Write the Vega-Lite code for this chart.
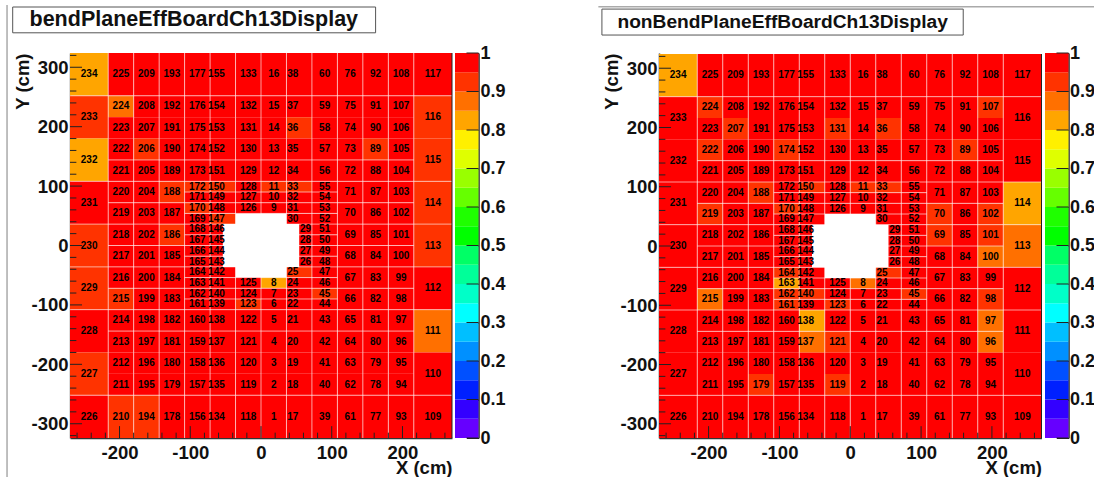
{"$schema":"https://vega.github.io/schema/vega-lite/v6.json","background":"white","padding":{"left":6,"top":4,"right":0,"bottom":0},"spacing":3,"bounds":"flush",
"config":{"view":{"stroke":null},"text":{"font":"Liberation Sans"},"axis":{"labelFont":"Liberation Sans","labelFontWeight":"bold","labelFontSize":18.5,"labelColor":"#111","titleFont":"Liberation Sans","titleFontWeight":"bold","titleFontSize":18.5,"titleColor":"#111","grid":false,"tickColor":"#222","tickWidth":1,"zindex":1}},
"datasets":{
"cells":[
{"id":234,"x":-270,"x2":-216,"y":252,"y2":324,"lx":-243,"ly":288,"b":0.83,"n":0.83},
{"id":233,"x":-270,"x2":-216,"y":180,"y2":252,"lx":-243,"ly":216,"b":0.93,"n":0.98},
{"id":232,"x":-270,"x2":-216,"y":108,"y2":180,"lx":-243,"ly":144,"b":0.83,"n":0.98},
{"id":231,"x":-270,"x2":-216,"y":36,"y2":108,"lx":-243,"ly":72,"b":0.98,"n":0.98},
{"id":230,"x":-270,"x2":-216,"y":-36,"y2":36,"lx":-243,"ly":0,"b":0.93,"n":0.98},
{"id":229,"x":-270,"x2":-216,"y":-108,"y2":-36,"lx":-243,"ly":-72,"b":0.93,"n":0.98},
{"id":228,"x":-270,"x2":-216,"y":-180,"y2":-108,"lx":-243,"ly":-144,"b":0.98,"n":0.98},
{"id":227,"x":-270,"x2":-216,"y":-252,"y2":-180,"lx":-243,"ly":-216,"b":0.93,"n":0.98},
{"id":226,"x":-270,"x2":-216,"y":-324,"y2":-252,"lx":-243,"ly":-288,"b":0.98,"n":0.98},
{"id":117,"x":216,"x2":270,"y":252,"y2":324,"lx":243,"ly":288,"b":0.98,"n":0.98},
{"id":116,"x":216,"x2":270,"y":180,"y2":252,"lx":243,"ly":216,"b":0.93,"n":0.98},
{"id":115,"x":216,"x2":270,"y":108,"y2":180,"lx":243,"ly":144,"b":0.93,"n":0.98},
{"id":114,"x":216,"x2":270,"y":36,"y2":108,"lx":243,"ly":72,"b":0.93,"n":0.83},
{"id":113,"x":216,"x2":270,"y":-36,"y2":36,"lx":243,"ly":0,"b":0.93,"n":0.88},
{"id":112,"x":216,"x2":270,"y":-108,"y2":-36,"lx":243,"ly":-72,"b":0.98,"n":0.98},
{"id":111,"x":216,"x2":270,"y":-180,"y2":-108,"lx":243,"ly":-144,"b":0.88,"n":0.98},
{"id":110,"x":216,"x2":270,"y":-252,"y2":-180,"lx":243,"ly":-216,"b":0.98,"n":0.98},
{"id":109,"x":216,"x2":270,"y":-324,"y2":-252,"lx":243,"ly":-288,"b":0.98,"n":0.98},
{"id":225,"x":-216,"x2":-180,"y":252,"y2":324,"lx":-198,"ly":288,"b":0.98,"n":0.98},
{"id":224,"x":-216,"x2":-180,"y":216,"y2":252,"lx":-198,"ly":234,"b":0.88,"n":0.93},
{"id":223,"x":-216,"x2":-180,"y":180,"y2":216,"lx":-198,"ly":198,"b":0.98,"n":0.98},
{"id":222,"x":-216,"x2":-180,"y":144,"y2":180,"lx":-198,"ly":162,"b":0.98,"n":0.93},
{"id":221,"x":-216,"x2":-180,"y":108,"y2":144,"lx":-198,"ly":126,"b":0.98,"n":0.98},
{"id":220,"x":-216,"x2":-180,"y":72,"y2":108,"lx":-198,"ly":90,"b":0.98,"n":0.98},
{"id":219,"x":-216,"x2":-180,"y":36,"y2":72,"lx":-198,"ly":54,"b":0.98,"n":0.93},
{"id":218,"x":-216,"x2":-180,"y":0,"y2":36,"lx":-198,"ly":18,"b":0.98,"n":0.98},
{"id":217,"x":-216,"x2":-180,"y":-36,"y2":0,"lx":-198,"ly":-18,"b":0.98,"n":0.98},
{"id":216,"x":-216,"x2":-180,"y":-72,"y2":-36,"lx":-198,"ly":-54,"b":0.98,"n":0.98},
{"id":215,"x":-216,"x2":-180,"y":-108,"y2":-72,"lx":-198,"ly":-90,"b":0.93,"n":0.88},
{"id":214,"x":-216,"x2":-180,"y":-144,"y2":-108,"lx":-198,"ly":-126,"b":0.98,"n":0.98},
{"id":213,"x":-216,"x2":-180,"y":-180,"y2":-144,"lx":-198,"ly":-162,"b":0.98,"n":0.98},
{"id":212,"x":-216,"x2":-180,"y":-216,"y2":-180,"lx":-198,"ly":-198,"b":0.98,"n":0.98},
{"id":211,"x":-216,"x2":-180,"y":-252,"y2":-216,"lx":-198,"ly":-234,"b":0.98,"n":0.98},
{"id":210,"x":-216,"x2":-180,"y":-324,"y2":-252,"lx":-198,"ly":-288,"b":0.93,"n":0.98},
{"id":209,"x":-180,"x2":-144,"y":252,"y2":324,"lx":-162,"ly":288,"b":0.98,"n":0.98},
{"id":208,"x":-180,"x2":-144,"y":216,"y2":252,"lx":-162,"ly":234,"b":0.98,"n":0.98},
{"id":207,"x":-180,"x2":-144,"y":180,"y2":216,"lx":-162,"ly":198,"b":0.98,"n":0.93},
{"id":206,"x":-180,"x2":-144,"y":144,"y2":180,"lx":-162,"ly":162,"b":0.93,"n":0.98},
{"id":205,"x":-180,"x2":-144,"y":108,"y2":144,"lx":-162,"ly":126,"b":0.98,"n":0.98},
{"id":204,"x":-180,"x2":-144,"y":72,"y2":108,"lx":-162,"ly":90,"b":0.98,"n":0.98},
{"id":203,"x":-180,"x2":-144,"y":36,"y2":72,"lx":-162,"ly":54,"b":0.98,"n":0.98},
{"id":202,"x":-180,"x2":-144,"y":0,"y2":36,"lx":-162,"ly":18,"b":0.98,"n":0.98},
{"id":201,"x":-180,"x2":-144,"y":-36,"y2":0,"lx":-162,"ly":-18,"b":0.98,"n":0.98},
{"id":200,"x":-180,"x2":-144,"y":-72,"y2":-36,"lx":-162,"ly":-54,"b":0.98,"n":0.98},
{"id":199,"x":-180,"x2":-144,"y":-108,"y2":-72,"lx":-162,"ly":-90,"b":0.98,"n":0.98},
{"id":198,"x":-180,"x2":-144,"y":-144,"y2":-108,"lx":-162,"ly":-126,"b":0.98,"n":0.98},
{"id":197,"x":-180,"x2":-144,"y":-180,"y2":-144,"lx":-162,"ly":-162,"b":0.98,"n":0.98},
{"id":196,"x":-180,"x2":-144,"y":-216,"y2":-180,"lx":-162,"ly":-198,"b":0.98,"n":0.98},
{"id":195,"x":-180,"x2":-144,"y":-252,"y2":-216,"lx":-162,"ly":-234,"b":0.98,"n":0.98},
{"id":194,"x":-180,"x2":-144,"y":-324,"y2":-252,"lx":-162,"ly":-288,"b":0.93,"n":0.98},
{"id":193,"x":-144,"x2":-108,"y":252,"y2":324,"lx":-126,"ly":288,"b":0.98,"n":0.98},
{"id":192,"x":-144,"x2":-108,"y":216,"y2":252,"lx":-126,"ly":234,"b":0.98,"n":0.98},
{"id":191,"x":-144,"x2":-108,"y":180,"y2":216,"lx":-126,"ly":198,"b":0.98,"n":0.98},
{"id":190,"x":-144,"x2":-108,"y":144,"y2":180,"lx":-126,"ly":162,"b":0.98,"n":0.98},
{"id":189,"x":-144,"x2":-108,"y":108,"y2":144,"lx":-126,"ly":126,"b":0.98,"n":0.98},
{"id":188,"x":-144,"x2":-108,"y":72,"y2":108,"lx":-126,"ly":90,"b":0.93,"n":0.93},
{"id":187,"x":-144,"x2":-108,"y":36,"y2":72,"lx":-126,"ly":54,"b":0.98,"n":0.98},
{"id":186,"x":-144,"x2":-108,"y":0,"y2":36,"lx":-126,"ly":18,"b":0.93,"n":0.98},
{"id":185,"x":-144,"x2":-108,"y":-36,"y2":0,"lx":-126,"ly":-18,"b":0.98,"n":0.98},
{"id":184,"x":-144,"x2":-108,"y":-72,"y2":-36,"lx":-126,"ly":-54,"b":0.98,"n":0.98},
{"id":183,"x":-144,"x2":-108,"y":-108,"y2":-72,"lx":-126,"ly":-90,"b":0.98,"n":0.98},
{"id":182,"x":-144,"x2":-108,"y":-144,"y2":-108,"lx":-126,"ly":-126,"b":0.98,"n":0.98},
{"id":181,"x":-144,"x2":-108,"y":-180,"y2":-144,"lx":-126,"ly":-162,"b":0.98,"n":0.98},
{"id":180,"x":-144,"x2":-108,"y":-216,"y2":-180,"lx":-126,"ly":-198,"b":0.98,"n":0.98},
{"id":179,"x":-144,"x2":-108,"y":-252,"y2":-216,"lx":-126,"ly":-234,"b":0.98,"n":0.93},
{"id":178,"x":-144,"x2":-108,"y":-324,"y2":-252,"lx":-126,"ly":-288,"b":0.98,"n":0.98},
{"id":177,"x":-108,"x2":-72,"y":252,"y2":324,"lx":-90,"ly":288,"b":0.98,"n":0.98},
{"id":176,"x":-108,"x2":-72,"y":216,"y2":252,"lx":-90,"ly":234,"b":0.98,"n":0.98},
{"id":175,"x":-108,"x2":-72,"y":180,"y2":216,"lx":-90,"ly":198,"b":0.98,"n":0.98},
{"id":174,"x":-108,"x2":-72,"y":144,"y2":180,"lx":-90,"ly":162,"b":0.98,"n":0.93},
{"id":173,"x":-108,"x2":-72,"y":108,"y2":144,"lx":-90,"ly":126,"b":0.98,"n":0.98},
{"id":172,"x":-108,"x2":-72,"y":90,"y2":108,"lx":-90,"ly":99,"b":0.93,"n":0.98},
{"id":171,"x":-108,"x2":-72,"y":72,"y2":90,"lx":-90,"ly":81,"b":0.98,"n":0.98},
{"id":170,"x":-108,"x2":-72,"y":54,"y2":72,"lx":-90,"ly":63,"b":0.93,"n":0.93},
{"id":169,"x":-108,"x2":-72,"y":36,"y2":54,"lx":-90,"ly":45,"b":0.98,"n":0.98},
{"id":168,"x":-108,"x2":-72,"y":18,"y2":36,"lx":-90,"ly":27,"b":0.98,"n":0.98},
{"id":167,"x":-108,"x2":-72,"y":0,"y2":18,"lx":-90,"ly":9,"b":0.98,"n":0.98},
{"id":166,"x":-108,"x2":-72,"y":-18,"y2":0,"lx":-90,"ly":-9,"b":0.98,"n":0.98},
{"id":165,"x":-108,"x2":-72,"y":-36,"y2":-18,"lx":-90,"ly":-27,"b":0.98,"n":0.98},
{"id":164,"x":-108,"x2":-72,"y":-54,"y2":-36,"lx":-90,"ly":-45,"b":0.98,"n":0.93},
{"id":163,"x":-108,"x2":-72,"y":-72,"y2":-54,"lx":-90,"ly":-63,"b":0.98,"n":0.83},
{"id":162,"x":-108,"x2":-72,"y":-90,"y2":-72,"lx":-90,"ly":-81,"b":0.98,"n":0.93},
{"id":161,"x":-108,"x2":-72,"y":-108,"y2":-90,"lx":-90,"ly":-99,"b":0.98,"n":0.93},
{"id":160,"x":-108,"x2":-72,"y":-144,"y2":-108,"lx":-90,"ly":-126,"b":0.98,"n":0.98},
{"id":159,"x":-108,"x2":-72,"y":-180,"y2":-144,"lx":-90,"ly":-162,"b":0.98,"n":0.98},
{"id":158,"x":-108,"x2":-72,"y":-216,"y2":-180,"lx":-90,"ly":-198,"b":0.98,"n":0.98},
{"id":157,"x":-108,"x2":-72,"y":-252,"y2":-216,"lx":-90,"ly":-234,"b":0.98,"n":0.98},
{"id":156,"x":-108,"x2":-72,"y":-324,"y2":-252,"lx":-90,"ly":-288,"b":0.98,"n":0.98},
{"id":155,"x":-72,"x2":-36,"y":252,"y2":324,"lx":-63,"ly":288,"b":0.98,"n":0.98},
{"id":154,"x":-72,"x2":-36,"y":216,"y2":252,"lx":-63,"ly":234,"b":0.98,"n":0.98},
{"id":153,"x":-72,"x2":-36,"y":180,"y2":216,"lx":-63,"ly":198,"b":0.98,"n":0.98},
{"id":152,"x":-72,"x2":-36,"y":144,"y2":180,"lx":-63,"ly":162,"b":0.98,"n":0.98},
{"id":151,"x":-72,"x2":-36,"y":108,"y2":144,"lx":-63,"ly":126,"b":0.98,"n":0.98},
{"id":150,"x":-72,"x2":-36,"y":90,"y2":108,"lx":-63,"ly":99,"b":0.93,"n":0.93},
{"id":149,"x":-72,"x2":-36,"y":72,"y2":90,"lx":-63,"ly":81,"b":0.98,"n":0.98},
{"id":148,"x":-72,"x2":-36,"y":54,"y2":72,"lx":-63,"ly":63,"b":0.98,"n":0.98},
{"id":147,"x":-72,"x2":-36,"y":36,"y2":54,"lx":-63,"ly":45,"b":0.93,"n":0.98},
{"id":146,"x":-72,"x2":-54,"y":18,"y2":36,"lx":-63,"ly":27,"b":0.98,"n":0.98},
{"id":145,"x":-72,"x2":-54,"y":0,"y2":18,"lx":-63,"ly":9,"b":0.98,"n":0.98},
{"id":144,"x":-72,"x2":-54,"y":-18,"y2":0,"lx":-63,"ly":-9,"b":0.98,"n":0.98},
{"id":143,"x":-72,"x2":-54,"y":-36,"y2":-18,"lx":-63,"ly":-27,"b":0.98,"n":0.98},
{"id":142,"x":-72,"x2":-36,"y":-54,"y2":-36,"lx":-63,"ly":-45,"b":0.98,"n":0.98},
{"id":141,"x":-72,"x2":-36,"y":-72,"y2":-54,"lx":-63,"ly":-63,"b":0.98,"n":0.98},
{"id":140,"x":-72,"x2":-36,"y":-90,"y2":-72,"lx":-63,"ly":-81,"b":0.98,"n":0.93},
{"id":139,"x":-72,"x2":-36,"y":-108,"y2":-90,"lx":-63,"ly":-99,"b":0.98,"n":0.98},
{"id":138,"x":-72,"x2":-36,"y":-144,"y2":-108,"lx":-63,"ly":-126,"b":0.98,"n":0.83},
{"id":137,"x":-72,"x2":-36,"y":-180,"y2":-144,"lx":-63,"ly":-162,"b":0.98,"n":0.88},
{"id":136,"x":-72,"x2":-36,"y":-216,"y2":-180,"lx":-63,"ly":-198,"b":0.98,"n":0.98},
{"id":135,"x":-72,"x2":-36,"y":-252,"y2":-216,"lx":-63,"ly":-234,"b":0.98,"n":0.98},
{"id":134,"x":-72,"x2":-36,"y":-324,"y2":-252,"lx":-63,"ly":-288,"b":0.98,"n":0.98},
{"id":133,"x":-36,"x2":0,"y":252,"y2":324,"lx":-18,"ly":288,"b":0.98,"n":0.98},
{"id":132,"x":-36,"x2":0,"y":216,"y2":252,"lx":-18,"ly":234,"b":0.98,"n":0.98},
{"id":131,"x":-36,"x2":0,"y":180,"y2":216,"lx":-18,"ly":198,"b":0.98,"n":0.93},
{"id":130,"x":-36,"x2":0,"y":144,"y2":180,"lx":-18,"ly":162,"b":0.98,"n":0.98},
{"id":129,"x":-36,"x2":0,"y":108,"y2":144,"lx":-18,"ly":126,"b":0.98,"n":0.98},
{"id":128,"x":-36,"x2":0,"y":90,"y2":108,"lx":-18,"ly":99,"b":0.98,"n":0.98},
{"id":127,"x":-36,"x2":0,"y":72,"y2":90,"lx":-18,"ly":81,"b":0.98,"n":0.98},
{"id":126,"x":-36,"x2":0,"y":54,"y2":72,"lx":-18,"ly":63,"b":0.98,"n":0.98},
{"id":125,"x":-36,"x2":0,"y":-72,"y2":-54,"lx":-18,"ly":-63,"b":0.98,"n":0.98},
{"id":124,"x":-36,"x2":0,"y":-90,"y2":-72,"lx":-18,"ly":-81,"b":0.98,"n":0.98},
{"id":123,"x":-36,"x2":0,"y":-108,"y2":-90,"lx":-18,"ly":-99,"b":0.93,"n":0.93},
{"id":122,"x":-36,"x2":0,"y":-144,"y2":-108,"lx":-18,"ly":-126,"b":0.98,"n":0.98},
{"id":121,"x":-36,"x2":0,"y":-180,"y2":-144,"lx":-18,"ly":-162,"b":0.98,"n":0.93},
{"id":120,"x":-36,"x2":0,"y":-216,"y2":-180,"lx":-18,"ly":-198,"b":0.98,"n":0.98},
{"id":119,"x":-36,"x2":0,"y":-252,"y2":-216,"lx":-18,"ly":-234,"b":0.98,"n":0.93},
{"id":118,"x":-36,"x2":0,"y":-324,"y2":-252,"lx":-18,"ly":-288,"b":0.98,"n":0.98},
{"id":16,"x":0,"x2":36,"y":252,"y2":324,"lx":18,"ly":288,"b":0.98,"n":0.98},
{"id":15,"x":0,"x2":36,"y":216,"y2":252,"lx":18,"ly":234,"b":0.98,"n":0.98},
{"id":14,"x":0,"x2":36,"y":180,"y2":216,"lx":18,"ly":198,"b":0.98,"n":0.98},
{"id":13,"x":0,"x2":36,"y":144,"y2":180,"lx":18,"ly":162,"b":0.98,"n":0.98},
{"id":12,"x":0,"x2":36,"y":108,"y2":144,"lx":18,"ly":126,"b":0.98,"n":0.98},
{"id":11,"x":0,"x2":36,"y":90,"y2":108,"lx":18,"ly":99,"b":0.93,"n":0.93},
{"id":10,"x":0,"x2":36,"y":72,"y2":90,"lx":18,"ly":81,"b":0.98,"n":0.98},
{"id":9,"x":0,"x2":36,"y":54,"y2":72,"lx":18,"ly":63,"b":0.98,"n":0.98},
{"id":8,"x":0,"x2":36,"y":-72,"y2":-54,"lx":18,"ly":-63,"b":0.83,"n":0.88},
{"id":7,"x":0,"x2":36,"y":-90,"y2":-72,"lx":18,"ly":-81,"b":0.98,"n":0.98},
{"id":6,"x":0,"x2":36,"y":-108,"y2":-90,"lx":18,"ly":-99,"b":0.98,"n":0.98},
{"id":5,"x":0,"x2":36,"y":-144,"y2":-108,"lx":18,"ly":-126,"b":0.98,"n":0.98},
{"id":4,"x":0,"x2":36,"y":-180,"y2":-144,"lx":18,"ly":-162,"b":0.98,"n":0.98},
{"id":3,"x":0,"x2":36,"y":-216,"y2":-180,"lx":18,"ly":-198,"b":0.98,"n":0.98},
{"id":2,"x":0,"x2":36,"y":-252,"y2":-216,"lx":18,"ly":-234,"b":0.98,"n":0.98},
{"id":1,"x":0,"x2":36,"y":-324,"y2":-252,"lx":18,"ly":-288,"b":0.98,"n":0.98},
{"id":38,"x":36,"x2":72,"y":252,"y2":324,"lx":45,"ly":288,"b":0.98,"n":0.98},
{"id":37,"x":36,"x2":72,"y":216,"y2":252,"lx":45,"ly":234,"b":0.98,"n":0.98},
{"id":36,"x":36,"x2":72,"y":180,"y2":216,"lx":45,"ly":198,"b":0.93,"n":0.93},
{"id":35,"x":36,"x2":72,"y":144,"y2":180,"lx":45,"ly":162,"b":0.98,"n":0.98},
{"id":34,"x":36,"x2":72,"y":108,"y2":144,"lx":45,"ly":126,"b":0.98,"n":0.98},
{"id":33,"x":36,"x2":72,"y":90,"y2":108,"lx":45,"ly":99,"b":0.93,"n":0.93},
{"id":32,"x":36,"x2":72,"y":72,"y2":90,"lx":45,"ly":81,"b":0.98,"n":0.98},
{"id":31,"x":36,"x2":72,"y":54,"y2":72,"lx":45,"ly":63,"b":0.98,"n":0.98},
{"id":30,"x":36,"x2":72,"y":36,"y2":54,"lx":45,"ly":45,"b":0.98,"n":0.98},
{"id":29,"x":54,"x2":72,"y":18,"y2":36,"lx":63,"ly":27,"b":0.98,"n":0.98},
{"id":28,"x":54,"x2":72,"y":0,"y2":18,"lx":63,"ly":9,"b":0.98,"n":0.98},
{"id":27,"x":54,"x2":72,"y":-18,"y2":0,"lx":63,"ly":-9,"b":0.98,"n":0.98},
{"id":26,"x":54,"x2":72,"y":-36,"y2":-18,"lx":63,"ly":-27,"b":0.98,"n":0.98},
{"id":25,"x":36,"x2":72,"y":-54,"y2":-36,"lx":45,"ly":-45,"b":0.93,"n":0.93},
{"id":24,"x":36,"x2":72,"y":-72,"y2":-54,"lx":45,"ly":-63,"b":0.98,"n":0.98},
{"id":23,"x":36,"x2":72,"y":-90,"y2":-72,"lx":45,"ly":-81,"b":0.98,"n":0.98},
{"id":22,"x":36,"x2":72,"y":-108,"y2":-90,"lx":45,"ly":-99,"b":0.98,"n":0.98},
{"id":21,"x":36,"x2":72,"y":-144,"y2":-108,"lx":45,"ly":-126,"b":0.98,"n":0.98},
{"id":20,"x":36,"x2":72,"y":-180,"y2":-144,"lx":45,"ly":-162,"b":0.98,"n":0.98},
{"id":19,"x":36,"x2":72,"y":-216,"y2":-180,"lx":45,"ly":-198,"b":0.98,"n":0.98},
{"id":18,"x":36,"x2":72,"y":-252,"y2":-216,"lx":45,"ly":-234,"b":0.98,"n":0.98},
{"id":17,"x":36,"x2":72,"y":-324,"y2":-252,"lx":45,"ly":-288,"b":0.98,"n":0.98},
{"id":60,"x":72,"x2":108,"y":252,"y2":324,"lx":90,"ly":288,"b":0.98,"n":0.98},
{"id":59,"x":72,"x2":108,"y":216,"y2":252,"lx":90,"ly":234,"b":0.98,"n":0.98},
{"id":58,"x":72,"x2":108,"y":180,"y2":216,"lx":90,"ly":198,"b":0.98,"n":0.98},
{"id":57,"x":72,"x2":108,"y":144,"y2":180,"lx":90,"ly":162,"b":0.98,"n":0.98},
{"id":56,"x":72,"x2":108,"y":108,"y2":144,"lx":90,"ly":126,"b":0.98,"n":0.98},
{"id":55,"x":72,"x2":108,"y":90,"y2":108,"lx":90,"ly":99,"b":0.98,"n":0.98},
{"id":54,"x":72,"x2":108,"y":72,"y2":90,"lx":90,"ly":81,"b":0.98,"n":0.98},
{"id":53,"x":72,"x2":108,"y":54,"y2":72,"lx":90,"ly":63,"b":0.98,"n":0.98},
{"id":52,"x":72,"x2":108,"y":36,"y2":54,"lx":90,"ly":45,"b":0.98,"n":0.98},
{"id":51,"x":72,"x2":108,"y":18,"y2":36,"lx":90,"ly":27,"b":0.98,"n":0.98},
{"id":50,"x":72,"x2":108,"y":0,"y2":18,"lx":90,"ly":9,"b":0.98,"n":0.98},
{"id":49,"x":72,"x2":108,"y":-18,"y2":0,"lx":90,"ly":-9,"b":0.98,"n":0.98},
{"id":48,"x":72,"x2":108,"y":-36,"y2":-18,"lx":90,"ly":-27,"b":0.98,"n":0.98},
{"id":47,"x":72,"x2":108,"y":-54,"y2":-36,"lx":90,"ly":-45,"b":0.98,"n":0.98},
{"id":46,"x":72,"x2":108,"y":-72,"y2":-54,"lx":90,"ly":-63,"b":0.98,"n":0.98},
{"id":45,"x":72,"x2":108,"y":-90,"y2":-72,"lx":90,"ly":-81,"b":0.93,"n":0.93},
{"id":44,"x":72,"x2":108,"y":-108,"y2":-90,"lx":90,"ly":-99,"b":0.98,"n":0.98},
{"id":43,"x":72,"x2":108,"y":-144,"y2":-108,"lx":90,"ly":-126,"b":0.98,"n":0.98},
{"id":42,"x":72,"x2":108,"y":-180,"y2":-144,"lx":90,"ly":-162,"b":0.98,"n":0.98},
{"id":41,"x":72,"x2":108,"y":-216,"y2":-180,"lx":90,"ly":-198,"b":0.98,"n":0.98},
{"id":40,"x":72,"x2":108,"y":-252,"y2":-216,"lx":90,"ly":-234,"b":0.98,"n":0.98},
{"id":39,"x":72,"x2":108,"y":-324,"y2":-252,"lx":90,"ly":-288,"b":0.98,"n":0.98},
{"id":76,"x":108,"x2":144,"y":252,"y2":324,"lx":126,"ly":288,"b":0.98,"n":0.98},
{"id":75,"x":108,"x2":144,"y":216,"y2":252,"lx":126,"ly":234,"b":0.98,"n":0.98},
{"id":74,"x":108,"x2":144,"y":180,"y2":216,"lx":126,"ly":198,"b":0.98,"n":0.98},
{"id":73,"x":108,"x2":144,"y":144,"y2":180,"lx":126,"ly":162,"b":0.98,"n":0.98},
{"id":72,"x":108,"x2":144,"y":108,"y2":144,"lx":126,"ly":126,"b":0.98,"n":0.98},
{"id":71,"x":108,"x2":144,"y":72,"y2":108,"lx":126,"ly":90,"b":0.98,"n":0.98},
{"id":70,"x":108,"x2":144,"y":36,"y2":72,"lx":126,"ly":54,"b":0.98,"n":0.93},
{"id":69,"x":108,"x2":144,"y":0,"y2":36,"lx":126,"ly":18,"b":0.98,"n":0.93},
{"id":68,"x":108,"x2":144,"y":-36,"y2":0,"lx":126,"ly":-18,"b":0.98,"n":0.98},
{"id":67,"x":108,"x2":144,"y":-72,"y2":-36,"lx":126,"ly":-54,"b":0.98,"n":0.98},
{"id":66,"x":108,"x2":144,"y":-108,"y2":-72,"lx":126,"ly":-90,"b":0.98,"n":0.98},
{"id":65,"x":108,"x2":144,"y":-144,"y2":-108,"lx":126,"ly":-126,"b":0.98,"n":0.98},
{"id":64,"x":108,"x2":144,"y":-180,"y2":-144,"lx":126,"ly":-162,"b":0.98,"n":0.98},
{"id":63,"x":108,"x2":144,"y":-216,"y2":-180,"lx":126,"ly":-198,"b":0.98,"n":0.98},
{"id":62,"x":108,"x2":144,"y":-252,"y2":-216,"lx":126,"ly":-234,"b":0.98,"n":0.98},
{"id":61,"x":108,"x2":144,"y":-324,"y2":-252,"lx":126,"ly":-288,"b":0.98,"n":0.98},
{"id":92,"x":144,"x2":180,"y":252,"y2":324,"lx":162,"ly":288,"b":0.98,"n":0.98},
{"id":91,"x":144,"x2":180,"y":216,"y2":252,"lx":162,"ly":234,"b":0.98,"n":0.98},
{"id":90,"x":144,"x2":180,"y":180,"y2":216,"lx":162,"ly":198,"b":0.98,"n":0.98},
{"id":89,"x":144,"x2":180,"y":144,"y2":180,"lx":162,"ly":162,"b":0.93,"n":0.93},
{"id":88,"x":144,"x2":180,"y":108,"y2":144,"lx":162,"ly":126,"b":0.98,"n":0.98},
{"id":87,"x":144,"x2":180,"y":72,"y2":108,"lx":162,"ly":90,"b":0.98,"n":0.98},
{"id":86,"x":144,"x2":180,"y":36,"y2":72,"lx":162,"ly":54,"b":0.98,"n":0.98},
{"id":85,"x":144,"x2":180,"y":0,"y2":36,"lx":162,"ly":18,"b":0.98,"n":0.98},
{"id":84,"x":144,"x2":180,"y":-36,"y2":0,"lx":162,"ly":-18,"b":0.98,"n":0.98},
{"id":83,"x":144,"x2":180,"y":-72,"y2":-36,"lx":162,"ly":-54,"b":0.98,"n":0.98},
{"id":82,"x":144,"x2":180,"y":-108,"y2":-72,"lx":162,"ly":-90,"b":0.98,"n":0.98},
{"id":81,"x":144,"x2":180,"y":-144,"y2":-108,"lx":162,"ly":-126,"b":0.98,"n":0.98},
{"id":80,"x":144,"x2":180,"y":-180,"y2":-144,"lx":162,"ly":-162,"b":0.98,"n":0.98},
{"id":79,"x":144,"x2":180,"y":-216,"y2":-180,"lx":162,"ly":-198,"b":0.98,"n":0.98},
{"id":78,"x":144,"x2":180,"y":-252,"y2":-216,"lx":162,"ly":-234,"b":0.98,"n":0.98},
{"id":77,"x":144,"x2":180,"y":-324,"y2":-252,"lx":162,"ly":-288,"b":0.98,"n":0.98},
{"id":108,"x":180,"x2":216,"y":252,"y2":324,"lx":198,"ly":288,"b":0.98,"n":0.98},
{"id":107,"x":180,"x2":216,"y":216,"y2":252,"lx":198,"ly":234,"b":0.98,"n":0.93},
{"id":106,"x":180,"x2":216,"y":180,"y2":216,"lx":198,"ly":198,"b":0.98,"n":0.98},
{"id":105,"x":180,"x2":216,"y":144,"y2":180,"lx":198,"ly":162,"b":0.98,"n":0.98},
{"id":104,"x":180,"x2":216,"y":108,"y2":144,"lx":198,"ly":126,"b":0.98,"n":0.98},
{"id":103,"x":180,"x2":216,"y":72,"y2":108,"lx":198,"ly":90,"b":0.98,"n":0.98},
{"id":102,"x":180,"x2":216,"y":36,"y2":72,"lx":198,"ly":54,"b":0.98,"n":0.93},
{"id":101,"x":180,"x2":216,"y":0,"y2":36,"lx":198,"ly":18,"b":0.98,"n":0.93},
{"id":100,"x":180,"x2":216,"y":-36,"y2":0,"lx":198,"ly":-18,"b":0.98,"n":0.88},
{"id":99,"x":180,"x2":216,"y":-72,"y2":-36,"lx":198,"ly":-54,"b":0.98,"n":0.98},
{"id":98,"x":180,"x2":216,"y":-108,"y2":-72,"lx":198,"ly":-90,"b":0.98,"n":0.93},
{"id":97,"x":180,"x2":216,"y":-144,"y2":-108,"lx":198,"ly":-126,"b":0.98,"n":0.88},
{"id":96,"x":180,"x2":216,"y":-180,"y2":-144,"lx":198,"ly":-162,"b":0.98,"n":0.88},
{"id":95,"x":180,"x2":216,"y":-216,"y2":-180,"lx":198,"ly":-198,"b":0.98,"n":0.98},
{"id":94,"x":180,"x2":216,"y":-252,"y2":-216,"lx":198,"ly":-234,"b":0.98,"n":0.98},
{"id":93,"x":180,"x2":216,"y":-324,"y2":-252,"lx":198,"ly":-288,"b":0.98,"n":0.98}
],
"grid":[
{"x":-270,"x2":270,"y":252,"y2":252},{"x":-216,"x2":216,"y":144,"y2":144},{"x":-270,"x2":270,"y":108,"y2":108},{"x":-216,"x2":216,"y":72,"y2":72},{"x":-270,"x2":270,"y":36,"y2":36},{"x":-216,"x2":216,"y":0,"y2":0},{"x":-270,"x2":270,"y":-36,"y2":-36},{"x":-216,"x2":216,"y":-72,"y2":-72},{"x":-270,"x2":270,"y":-108,"y2":-108},{"x":-216,"x2":216,"y":-144,"y2":-144},{"x":-270,"x2":270,"y":-252,"y2":-252},
{"x":-108,"x2":108,"y":90,"y2":90},{"x":-108,"x2":108,"y":54,"y2":54},{"x":-108,"x2":108,"y":18,"y2":18},{"x":-108,"x2":108,"y":-18,"y2":-18},{"x":-108,"x2":108,"y":-54,"y2":-54},{"x":-108,"x2":108,"y":-90,"y2":-90},
{"x":-216,"x2":-216,"y":-324,"y2":324},{"x":-180,"x2":-180,"y":-324,"y2":324},{"x":-144,"x2":-144,"y":-324,"y2":324},{"x":-108,"x2":-108,"y":-324,"y2":324},{"x":-72,"x2":-72,"y":-324,"y2":324},{"x":-36,"x2":-36,"y":-324,"y2":324},{"x":0,"x2":0,"y":-324,"y2":324},{"x":36,"x2":36,"y":-324,"y2":324},{"x":72,"x2":72,"y":-324,"y2":324},{"x":108,"x2":108,"y":-324,"y2":324},{"x":144,"x2":144,"y":-324,"y2":324},{"x":180,"x2":180,"y":-324,"y2":324},{"x":216,"x2":216,"y":-324,"y2":324}
],
"ticks":[
{"x":-200,"x2":-200,"y":-324,"y2":-304},{"x":-100,"x2":-100,"y":-324,"y2":-304},{"x":0,"x2":0,"y":-324,"y2":-304},{"x":100,"x2":100,"y":-324,"y2":-304},{"x":200,"x2":200,"y":-324,"y2":-304},
{"x":-270,"x2":-253,"y":300,"y2":300},{"x":-270,"x2":-253,"y":200,"y2":200},{"x":-270,"x2":-253,"y":100,"y2":100},{"x":-270,"x2":-253,"y":0,"y2":0},{"x":-270,"x2":-253,"y":-100,"y2":-100},{"x":-270,"x2":-253,"y":-200,"y2":-200},{"x":-270,"x2":-253,"y":-300,"y2":-300},
{"x":-260,"x2":-260,"y":-324,"y2":-315},{"x":-240,"x2":-240,"y":-324,"y2":-315},{"x":-220,"x2":-220,"y":-324,"y2":-315},{"x":-180,"x2":-180,"y":-324,"y2":-315},{"x":-160,"x2":-160,"y":-324,"y2":-315},{"x":-140,"x2":-140,"y":-324,"y2":-315},{"x":-120,"x2":-120,"y":-324,"y2":-315},{"x":-80,"x2":-80,"y":-324,"y2":-315},{"x":-60,"x2":-60,"y":-324,"y2":-315},{"x":-40,"x2":-40,"y":-324,"y2":-315},{"x":-20,"x2":-20,"y":-324,"y2":-315},{"x":20,"x2":20,"y":-324,"y2":-315},{"x":40,"x2":40,"y":-324,"y2":-315},{"x":60,"x2":60,"y":-324,"y2":-315},{"x":80,"x2":80,"y":-324,"y2":-315},{"x":120,"x2":120,"y":-324,"y2":-315},{"x":140,"x2":140,"y":-324,"y2":-315},{"x":160,"x2":160,"y":-324,"y2":-315},{"x":180,"x2":180,"y":-324,"y2":-315},{"x":220,"x2":220,"y":-324,"y2":-315},{"x":240,"x2":240,"y":-324,"y2":-315},{"x":260,"x2":260,"y":-324,"y2":-315},
{"x":-270,"x2":-261,"y":320,"y2":320},{"x":-270,"x2":-261,"y":280,"y2":280},{"x":-270,"x2":-261,"y":260,"y2":260},{"x":-270,"x2":-261,"y":240,"y2":240},{"x":-270,"x2":-261,"y":220,"y2":220},{"x":-270,"x2":-261,"y":180,"y2":180},{"x":-270,"x2":-261,"y":160,"y2":160},{"x":-270,"x2":-261,"y":140,"y2":140},{"x":-270,"x2":-261,"y":120,"y2":120},{"x":-270,"x2":-261,"y":80,"y2":80},{"x":-270,"x2":-261,"y":60,"y2":60},{"x":-270,"x2":-261,"y":40,"y2":40},{"x":-270,"x2":-261,"y":20,"y2":20},{"x":-270,"x2":-261,"y":-20,"y2":-20},{"x":-270,"x2":-261,"y":-40,"y2":-40},{"x":-270,"x2":-261,"y":-60,"y2":-60},{"x":-270,"x2":-261,"y":-80,"y2":-80},{"x":-270,"x2":-261,"y":-120,"y2":-120},{"x":-270,"x2":-261,"y":-140,"y2":-140},{"x":-270,"x2":-261,"y":-160,"y2":-160},{"x":-270,"x2":-261,"y":-180,"y2":-180},{"x":-270,"x2":-261,"y":-220,"y2":-220},{"x":-270,"x2":-261,"y":-240,"y2":-240},{"x":-270,"x2":-261,"y":-260,"y2":-260},{"x":-270,"x2":-261,"y":-280,"y2":-280},{"x":-270,"x2":-261,"y":-320,"y2":-320},
{"x":270,"x2":270,"y":-324,"y2":324}
],
"levels":[
{"x":0,"x2":1,"y":0,"y2":0.05,"v":0.025},{"x":0,"x2":1,"y":0.05,"y2":0.1,"v":0.075},{"x":0,"x2":1,"y":0.1,"y2":0.15,"v":0.125},{"x":0,"x2":1,"y":0.15,"y2":0.2,"v":0.175},{"x":0,"x2":1,"y":0.2,"y2":0.25,"v":0.225},{"x":0,"x2":1,"y":0.25,"y2":0.3,"v":0.275},{"x":0,"x2":1,"y":0.3,"y2":0.35,"v":0.325},{"x":0,"x2":1,"y":0.35,"y2":0.4,"v":0.375},{"x":0,"x2":1,"y":0.4,"y2":0.45,"v":0.425},{"x":0,"x2":1,"y":0.45,"y2":0.5,"v":0.475},{"x":0,"x2":1,"y":0.5,"y2":0.55,"v":0.525},{"x":0,"x2":1,"y":0.55,"y2":0.6,"v":0.575},{"x":0,"x2":1,"y":0.6,"y2":0.65,"v":0.625},{"x":0,"x2":1,"y":0.65,"y2":0.7,"v":0.675},{"x":0,"x2":1,"y":0.7,"y2":0.75,"v":0.725},{"x":0,"x2":1,"y":0.75,"y2":0.8,"v":0.775},{"x":0,"x2":1,"y":0.8,"y2":0.85,"v":0.825},{"x":0,"x2":1,"y":0.85,"y2":0.9,"v":0.875},{"x":0,"x2":1,"y":0.9,"y2":0.95,"v":0.925},{"x":0,"x2":1,"y":0.95,"y2":1,"v":0.975}
],
"barticks":[
{"x":0.49,"x2":1,"y":0,"y2":0},{"x":0.49,"x2":1,"y":0.1,"y2":0.1},{"x":0.49,"x2":1,"y":0.2,"y2":0.2},{"x":0.49,"x2":1,"y":0.3,"y2":0.3},{"x":0.49,"x2":1,"y":0.4,"y2":0.4},{"x":0.49,"x2":1,"y":0.5,"y2":0.5},{"x":0.49,"x2":1,"y":0.6,"y2":0.6},{"x":0.49,"x2":1,"y":0.7,"y2":0.7},{"x":0.49,"x2":1,"y":0.8,"y2":0.8},{"x":0.49,"x2":1,"y":0.9,"y2":0.9},{"x":0.49,"x2":1,"y":1,"y2":1}
]
},
"hconcat":[
{"width":382,"height":385,"encoding":{
"x":{"field":"x","type":"quantitative","scale":{"domain":[-270,270],"nice":false,"zero":false},"axis":{"title":"X (cm)","values":[-200,-100,0,100,200],"labelExpr":"''+datum.value","tickSize":-12,"labelPadding":17,"domainColor":"#333","domainWidth":1.5,"titleAnchor":"end","titleAlign":"right","titleBaseline":"alphabetic","titleX":382,"titleY":35}},
"y":{"field":"y","type":"quantitative","scale":{"domain":[-324,324],"nice":false,"zero":false},"axis":{"title":"Y (cm)","values":[-300,-200,-100,0,100,200,300],"labelExpr":"''+datum.value","tickSize":-12,"labelPadding":14,"domainColor":"#777","domainWidth":1.5,"titleAngle":-90,"titleAnchor":"end","titleAlign":"right","titleBaseline":"alphabetic","titleX":-42,"titleY":0}}},
"layer":[
{"data":{"name":"cells"},"mark":{"type":"rect"},"encoding":{"x2":{"field":"x2"},"y2":{"field":"y2"},"color":{"field":"b","type":"quantitative","legend":null,"scale":{"type":"threshold","domain":[0.05,0.1,0.15,0.2,0.25,0.3,0.35,0.4,0.45,0.5,0.55,0.6,0.65,0.7,0.75,0.8,0.85,0.9,0.95],"range":["#6600ff","#3300ff","#0020ff","#0050ff","#0090ff","#00bfff","#00ffff","#00ffc8","#00ff99","#00ff66","#00ff00","#1fff00","#66ff00","#99ff00","#dfff00","#fff000","#ffa500","#ff7000","#ff3300","#ff0000"]}}}},
{"data":{"name":"grid"},"mark":{"type":"rule","color":"#ffffff","opacity":0.6,"strokeWidth":1},"encoding":{"x2":{"field":"x2"},"y2":{"field":"y2"}}},
{"data":{"name":"cells"},"mark":{"type":"text","font":"Liberation Sans","fontWeight":"bold","fontSize":10,"color":"#000"},"encoding":{"x":{"field":"lx","type":"quantitative","scale":{"domain":[-270,270],"nice":false,"zero":false},"axis":{"title":"X (cm)","values":[-200,-100,0,100,200],"labelExpr":"''+datum.value","tickSize":-12,"labelPadding":17,"domainColor":"#333","domainWidth":1.5,"titleAnchor":"end","titleAlign":"right","titleBaseline":"alphabetic","titleX":382,"titleY":35}},"y":{"field":"ly","type":"quantitative","scale":{"domain":[-324,324],"nice":false,"zero":false},"axis":{"title":"Y (cm)","values":[-300,-200,-100,0,100,200,300],"labelExpr":"''+datum.value","tickSize":-12,"labelPadding":14,"domainColor":"#777","domainWidth":1.5,"titleAngle":-90,"titleAnchor":"end","titleAlign":"right","titleBaseline":"alphabetic","titleX":-42,"titleY":0}},"text":{"field":"id","type":"nominal"}}},
{"data":{"name":"ticks"},"mark":{"type":"rule","color":"#222","strokeWidth":1},"encoding":{"x2":{"field":"x2"},"y2":{"field":"y2"}}},
{"data":{"values":[{"x":-359,"x2":-359,"y":-390,"y2":405}]},"mark":{"type":"rule","color":"#aaaaaa","strokeWidth":1.5},"encoding":{"x2":{"field":"x2"},"y2":{"field":"y2"}}},
{"data":{"values":[{"x":-351,"x2":162,"y":358,"y2":401.4}]},"mark":{"type":"rect","fill":"white","stroke":"#555","strokeWidth":1},"encoding":{"x2":{"field":"x2"},"y2":{"field":"y2"}}},
{"data":{"values":[{"x":-95,"y":379,"t":"bendPlaneEffBoardCh13Display"}]},"mark":{"type":"text","font":"Liberation Sans","fontWeight":"bold","fontSize":21.5,"color":"#111"},"encoding":{"text":{"field":"t","type":"nominal"}}}
]},
{"width":23.5,"height":385,"encoding":{
"x":{"field":"x","type":"quantitative","scale":{"domain":[0,1],"nice":false,"zero":false},"axis":null},
"y":{"field":"y","type":"quantitative","scale":{"domain":[0,1],"nice":false,"zero":false},"axis":{"orient":"right","title":null,"values":[0,0.1,0.2,0.3,0.4,0.5,0.6,0.7,0.8,0.9,1],"format":"~g","tickSize":-12,"labelFontSize":18,"labelPadding":13.5,"labelAlign":"left","domainColor":"#222","domainWidth":1.5}}},
"layer":[
{"data":{"name":"levels"},"mark":{"type":"rect"},"encoding":{"x2":{"field":"x2"},"y2":{"field":"y2"},"color":{"field":"v","type":"quantitative","legend":null,"scale":{"type":"threshold","domain":[0.05,0.1,0.15,0.2,0.25,0.3,0.35,0.4,0.45,0.5,0.55,0.6,0.65,0.7,0.75,0.8,0.85,0.9,0.95],"range":["#6600ff","#3300ff","#0020ff","#0050ff","#0090ff","#00bfff","#00ffff","#00ffc8","#00ff99","#00ff66","#00ff00","#1fff00","#66ff00","#99ff00","#dfff00","#fff000","#ffa500","#ff7000","#ff3300","#ff0000"]}}}},
{"data":{"name":"barticks"},"mark":{"type":"rule","color":"#222","strokeWidth":1},"encoding":{"x2":{"field":"x2"},"y2":{"field":"y2"}}}
]},
{"width":173.2,"height":385,"data":{"values":[{"s":1}]},"mark":{"type":"point","opacity":0},"encoding":{}},
{"width":382.5,"height":385,"encoding":{
"x":{"field":"x","type":"quantitative","scale":{"domain":[-270,270],"nice":false,"zero":false},"axis":{"title":"X (cm)","values":[-200,-100,0,100,200],"labelExpr":"''+datum.value","tickSize":-12,"labelPadding":17,"domainColor":"#333","domainWidth":1.5,"titleAnchor":"end","titleAlign":"right","titleBaseline":"alphabetic","titleX":382.5,"titleY":35}},
"y":{"field":"y","type":"quantitative","scale":{"domain":[-324,325.7],"nice":false,"zero":false},"axis":{"title":"Y (cm)","values":[-300,-200,-100,0,100,200,300],"labelExpr":"''+datum.value","tickSize":-12,"labelPadding":14,"domainColor":"#333","domainWidth":1.5,"titleAngle":-90,"titleAnchor":"end","titleAlign":"right","titleBaseline":"alphabetic","titleX":-42,"titleY":0}}},
"layer":[
{"data":{"name":"cells"},"mark":{"type":"rect"},"encoding":{"x2":{"field":"x2"},"y2":{"field":"y2"},"color":{"field":"n","type":"quantitative","legend":null,"scale":{"type":"threshold","domain":[0.05,0.1,0.15,0.2,0.25,0.3,0.35,0.4,0.45,0.5,0.55,0.6,0.65,0.7,0.75,0.8,0.85,0.9,0.95],"range":["#6600ff","#3300ff","#0020ff","#0050ff","#0090ff","#00bfff","#00ffff","#00ffc8","#00ff99","#00ff66","#00ff00","#1fff00","#66ff00","#99ff00","#dfff00","#fff000","#ffa500","#ff7000","#ff3300","#ff0000"]}}}},
{"data":{"name":"grid"},"mark":{"type":"rule","color":"#ffffff","opacity":0.6,"strokeWidth":1},"encoding":{"x2":{"field":"x2"},"y2":{"field":"y2"}}},
{"data":{"name":"cells"},"mark":{"type":"text","font":"Liberation Sans","fontWeight":"bold","fontSize":10,"color":"#000"},"encoding":{"x":{"field":"lx","type":"quantitative","scale":{"domain":[-270,270],"nice":false,"zero":false},"axis":{"title":"X (cm)","values":[-200,-100,0,100,200],"labelExpr":"''+datum.value","tickSize":-12,"labelPadding":17,"domainColor":"#333","domainWidth":1.5,"titleAnchor":"end","titleAlign":"right","titleBaseline":"alphabetic","titleX":382.5,"titleY":35}},"y":{"field":"ly","type":"quantitative","scale":{"domain":[-324,325.7],"nice":false,"zero":false},"axis":{"title":"Y (cm)","values":[-300,-200,-100,0,100,200,300],"labelExpr":"''+datum.value","tickSize":-12,"labelPadding":14,"domainColor":"#333","domainWidth":1.5,"titleAngle":-90,"titleAnchor":"end","titleAlign":"right","titleBaseline":"alphabetic","titleX":-42,"titleY":0}},"text":{"field":"id","type":"nominal"}}},
{"data":{"name":"ticks"},"mark":{"type":"rule","color":"#222","strokeWidth":1},"encoding":{"x2":{"field":"x2"},"y2":{"field":"y2"}}},
{"data":{"values":[{"x":-355.6,"x2":345.7,"y":403.8,"y2":403.8}]},"mark":{"type":"rule","color":"#aaaaaa","strokeWidth":1.5},"encoding":{"x2":{"field":"x2"},"y2":{"field":"y2"}}},
{"data":{"values":[{"x":-350.6,"x2":159.5,"y":356,"y2":399.8}]},"mark":{"type":"rect","fill":"white","stroke":"#555","strokeWidth":1},"encoding":{"x2":{"field":"x2"},"y2":{"field":"y2"}}},
{"data":{"values":[{"x":-95.4,"y":378,"t":"nonBendPlaneEffBoardCh13Display"}]},"mark":{"type":"text","font":"Liberation Sans","fontWeight":"bold","fontSize":19.2,"color":"#111"},"encoding":{"text":{"field":"t","type":"nominal"}}}
]},
{"width":23.5,"height":385,"encoding":{
"x":{"field":"x","type":"quantitative","scale":{"domain":[0,1],"nice":false,"zero":false},"axis":null},
"y":{"field":"y","type":"quantitative","scale":{"domain":[0,1],"nice":false,"zero":false},"axis":{"orient":"right","title":null,"values":[0,0.1,0.2,0.3,0.4,0.5,0.6,0.7,0.8,0.9,1],"format":"~g","tickSize":-12,"labelFontSize":18,"labelPadding":13,"labelAlign":"left","domainColor":"#222","domainWidth":1.5}}},
"layer":[
{"data":{"name":"levels"},"mark":{"type":"rect"},"encoding":{"x2":{"field":"x2"},"y2":{"field":"y2"},"color":{"field":"v","type":"quantitative","legend":null,"scale":{"type":"threshold","domain":[0.05,0.1,0.15,0.2,0.25,0.3,0.35,0.4,0.45,0.5,0.55,0.6,0.65,0.7,0.75,0.8,0.85,0.9,0.95],"range":["#6600ff","#3300ff","#0020ff","#0050ff","#0090ff","#00bfff","#00ffff","#00ffc8","#00ff99","#00ff66","#00ff00","#1fff00","#66ff00","#99ff00","#dfff00","#fff000","#ffa500","#ff7000","#ff3300","#ff0000"]}}}},
{"data":{"name":"barticks"},"mark":{"type":"rule","color":"#222","strokeWidth":1},"encoding":{"x2":{"field":"x2"},"y2":{"field":"y2"}}}
]}
]}
